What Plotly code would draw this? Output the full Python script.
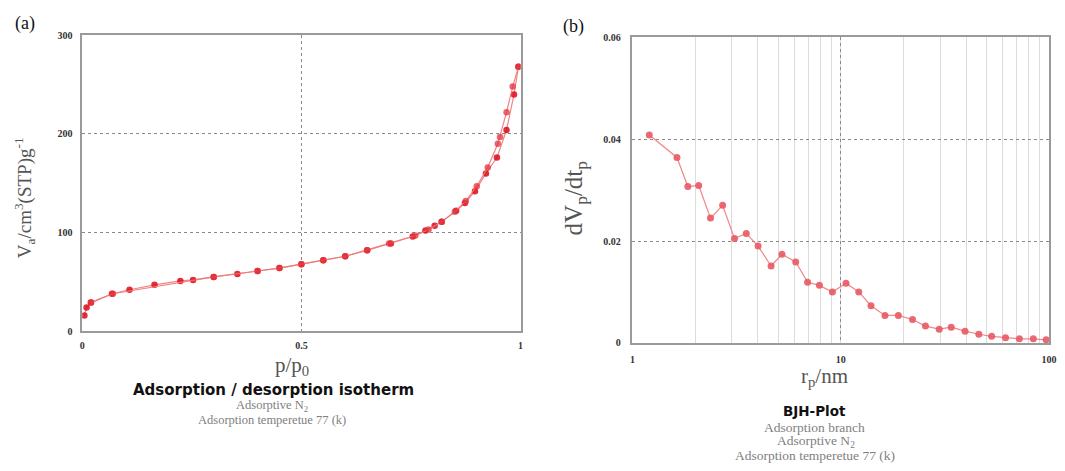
import plotly.graph_objects as go

W, H = 1065, 471

# ---- data (a): N2 adsorption / desorption isotherm ----
ads_p = [0.005, 0.01, 0.02, 0.068, 0.108, 0.165, 0.224, 0.253, 0.30, 0.354, 0.40, 0.45,
         0.50, 0.55, 0.60, 0.65, 0.704, 0.754, 0.783, 0.804, 0.82, 0.853, 0.873, 0.896,
         0.921, 0.946, 0.968, 0.985, 0.995]
ads_v = [16, 24, 29, 38, 42, 47, 51, 52, 55, 58, 61, 64,
         68, 72, 76, 82, 89, 96, 102, 107, 111, 122, 130, 142,
         160, 176, 204, 240, 268]
des_p = [0.995, 0.982, 0.968, 0.953, 0.948, 0.925, 0.9, 0.875, 0.85, 0.82, 0.79, 0.76,
         0.70, 0.65, 0.60, 0.55, 0.50, 0.45, 0.40, 0.30, 0.07, 0.02]
des_v = [268, 248, 222, 197, 190, 166, 147, 132, 121, 111, 103, 97,
         89, 82, 76, 72, 68, 64, 61, 55, 38, 29]

# ---- data (b): BJH pore size distribution ----
bjh_r = [1.205, 1.636, 1.845, 2.08, 2.37, 2.71, 3.09, 3.52, 4.01, 4.63, 5.22, 6.08,
         6.93, 7.9, 9.12, 10.6, 12.2, 13.97, 16.3, 18.9, 22.1, 25.5, 29.7, 33.9,
         39.5, 46, 53, 61.8, 72, 84, 96.8]
bjh_d = [0.0408, 0.0364, 0.0307, 0.0309, 0.0245, 0.0270, 0.0205, 0.0215, 0.0190, 0.0151,
         0.0174, 0.0159, 0.0119, 0.0113, 0.0100, 0.0117, 0.0100, 0.0073, 0.0054, 0.0054,
         0.0046, 0.0033, 0.0027, 0.0031, 0.0023, 0.0017, 0.0013, 0.0010, 0.0008, 0.0008,
         0.0006]

a_xticks = [0, 0.5, 1]
a_xlabels = ["0", "0.5", "1"]
a_yticks = [0, 100, 200, 300]
b_xticks = [1, 10, 100]
b_yticks = [0, 0.02, 0.04, 0.06]
b_ylabels = ["0", "0.02", "0.04", "0.06"]


def px(x):
    return x / W


def py(y):
    return 1 - y / H


fig = go.Figure()

line_col = "rgba(240,120,120,0.9)"
mk_col = "rgba(220,10,25,0.85)"

fig.add_trace(go.Scatter(x=ads_p, y=ads_v, mode="lines+markers", xaxis="x", yaxis="y",
                         line=dict(color=line_col, width=1.2),
                         marker=dict(color=mk_col, size=6.5, symbol="circle"),
                         showlegend=False))
fig.add_trace(go.Scatter(x=des_p, y=des_v, mode="lines+markers", xaxis="x", yaxis="y",
                         line=dict(color=line_col, width=1.2),
                         marker=dict(color="rgba(228,50,60,0.75)", size=6.5, symbol="circle"),
                         showlegend=False))
fig.add_trace(go.Scatter(x=bjh_r, y=bjh_d, mode="lines+markers", xaxis="x2", yaxis="y2",
                         line=dict(color="rgba(240,120,125,0.9)", width=1.2),
                         marker=dict(color="rgba(232,90,100,0.9)", size=7, symbol="circle"),
                         showlegend=False))

tickfont = dict(family="Liberation Serif", size=10, color="#333333", weight=700)
axline = dict(showline=True, mirror=True, linecolor="#9a9a9a", linewidth=1.5, zeroline=False)
grid = dict(showgrid=True, gridcolor="#8a8a8a", griddash="dot", gridwidth=1)

fig.update_layout(
    width=W, height=H,
    margin=dict(l=0, r=0, t=0, b=0),
    paper_bgcolor="white", plot_bgcolor="white",
    xaxis=dict(domain=[px(80), px(523)], range=[0, 1], tickvals=a_xticks, ticktext=a_xlabels,
               tickfont=tickfont, ticks="", anchor="y", ticklabelstandoff=4, **grid, **axline),
    yaxis=dict(domain=[py(334), py(31)], range=[0, 300], tickvals=a_yticks,
               tickfont=tickfont, ticks="", anchor="x", ticklabelstandoff=6, **grid, **axline),
    xaxis2=dict(domain=[px(636), px(1057)], type="log", range=[0, 2], tickvals=b_xticks,
                minor=dict(dtick="D1", showgrid=True, gridcolor="#dcdcdc", gridwidth=1,
                           griddash="solid", ticks=""),
                tickfont=tickfont, ticks="", anchor="y2", ticklabelstandoff=6, **grid, **axline),
    yaxis2=dict(domain=[py(346), py(33)], range=[0, 0.06], tickvals=b_yticks, ticktext=b_ylabels,
                tickfont=tickfont, ticks="", anchor="x2", ticklabelstandoff=8, **grid, **axline),
)

serif = "Liberation Serif"
bold_sans = "DejaVu Sans"
ann = []


def add(text, x, y, size, color="#555555", family=serif, angle=0, weight="normal"):
    ann.append(dict(text=text, x=px(x), y=py(y), xref="paper", yref="paper", showarrow=False,
                    font=dict(family=family, size=size, color=color, weight=weight),
                    textangle=angle, xanchor="center", yanchor="middle"))


add("(a)", 22, 19, 18, color="#111111")
add("(b)", 576, 22, 18, color="#111111")
add("V<sub>a</sub>/cm<sup>3</sup>(STP)g<sup>-1</sup>", 22, 197, 19, angle=-90)
add("p/p<sub>0</sub>", 292, 370, 21)
add("Adsorption / desorption isotherm", 273, 394, 15, color="#111111", family=bold_sans,
    weight="bold")
add("Adsorptive N<sub>2</sub>", 272, 411, 12.5, color="#808080")
add("Adsorption temperetue 77 (k)", 272, 425, 12.5, color="#808080")

add("dV<sub>p</sub>/dt<sub>p</sub>", 578, 198, 25, angle=-90)
add("r<sub>p</sub>/nm", 830, 381, 21)
add("BJH-Plot", 820, 416, 13.5, color="#111111", family=bold_sans, weight="bold")
add("Adsorption branch", 820, 433, 13.5, color="#808080")
add("Adsorptive N<sub>2</sub>", 821, 447, 13.5, color="#808080")
add("Adsorption temperetue 77 (k)", 820, 461, 13.5, color="#808080")

fig.update_layout(annotations=ann)

fig.write_html("out.html")
